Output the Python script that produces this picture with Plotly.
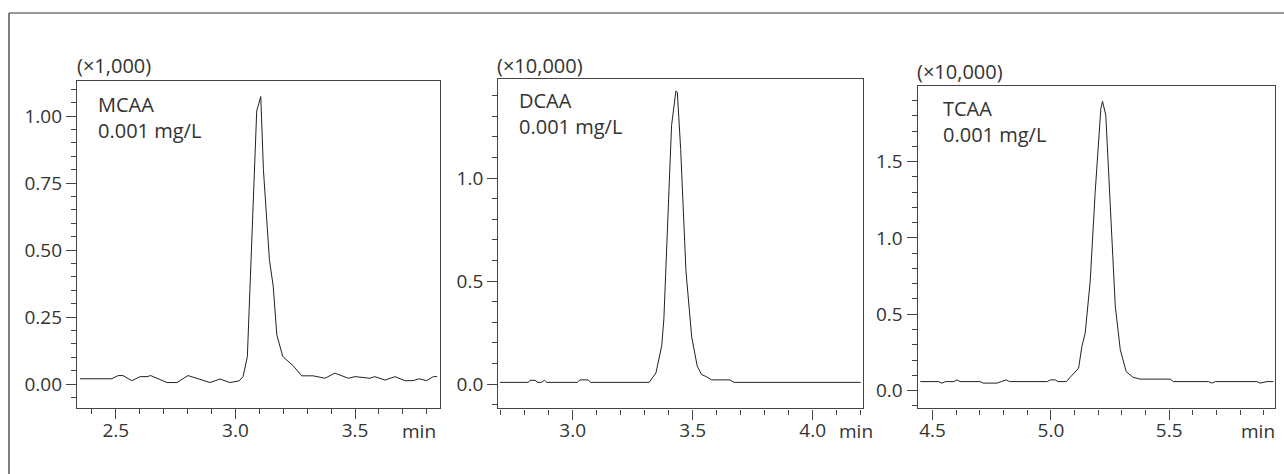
import plotly.graph_objects as go

# ---------------- data ----------------
mcaa_t = [2.351, 2.483, 2.510, 2.530, 2.567, 2.602, 2.631, 2.646, 2.714, 2.756, 2.802, 2.894, 2.936,
          2.977, 3.015, 3.032, 3.050, 3.089, 3.106, 3.117, 3.142, 3.158, 3.173, 3.198, 3.242, 3.277,
          3.325, 3.374, 3.416, 3.472, 3.500, 3.562, 3.583, 3.625, 3.667, 3.708, 3.742, 3.768, 3.799,
          3.827, 3.843]
mcaa_y = [0.020, 0.020, 0.032, 0.032, 0.013, 0.028, 0.028, 0.032, 0.006, 0.006, 0.032, 0.006, 0.019,
          0.006, 0.012, 0.028, 0.103, 1.019, 1.073, 0.800, 0.465, 0.365, 0.184, 0.103, 0.068, 0.031,
          0.031, 0.022, 0.041, 0.022, 0.028, 0.022, 0.028, 0.015, 0.028, 0.013, 0.013, 0.020, 0.013,
          0.028, 0.028]

dcaa_t = [2.697, 2.815, 2.822, 2.843, 2.855, 2.870, 2.882, 2.892, 3.020, 3.030, 3.064, 3.075, 3.319,
          3.347, 3.371, 3.380, 3.412, 3.430, 3.436, 3.450, 3.472, 3.496, 3.519, 3.537, 3.558, 3.579,
          3.655, 3.672, 4.200]
dcaa_y = [0.008, 0.008, 0.018, 0.018, 0.008, 0.008, 0.018, 0.008, 0.008, 0.020, 0.020, 0.008, 0.008,
          0.054, 0.186, 0.317, 1.255, 1.423, 1.417, 1.140, 0.548, 0.227, 0.087, 0.046, 0.035, 0.020,
          0.020, 0.008, 0.008]

tcaa_t = [4.448, 4.525, 4.539, 4.555, 4.590, 4.603, 4.616, 4.700, 4.714, 4.772, 4.790, 4.811, 4.825,
          4.985, 4.997, 5.018, 5.030, 5.065, 5.082, 5.117, 5.131, 5.145, 5.166, 5.187, 5.211, 5.218,
          5.232, 5.253, 5.272, 5.293, 5.318, 5.346, 5.377, 5.504, 5.518, 5.665, 5.680, 5.695, 5.870,
          5.884, 5.913, 5.940]
tcaa_y = [0.059, 0.059, 0.049, 0.059, 0.059, 0.070, 0.059, 0.059, 0.049, 0.049, 0.059, 0.070, 0.059,
          0.059, 0.070, 0.070, 0.059, 0.059, 0.088, 0.147, 0.290, 0.377, 0.717, 1.299, 1.847, 1.895,
          1.803, 1.167, 0.553, 0.268, 0.125, 0.088, 0.075, 0.075, 0.059, 0.059, 0.049, 0.059, 0.059,
          0.049, 0.059, 0.059]

names = ["MCAA", "DCAA", "TCAA"]
conc = "0.001 mg/L"
scales = ["(×1,000)", "(×10,000)", "(×10,000)"]
x_ranges = [[2.338, 3.855], [2.69, 4.211], [4.437, 5.947]]
y_ranges = [[-0.089, 1.131], [-0.118, 1.48], [-0.116, 1.995]]
x_tickvals = [[2.5, 3.0, 3.5], [3.0, 3.5, 4.0], [4.5, 5.0, 5.5]]
y_dtick = [0.25, 0.5, 0.5]
y_minor = [0.05, 0.1, 0.1]
y_fmt = [".2f", ".1f", ".1f"]

# ---------------- layout helpers (pixel positions) ----------------
W, H = 1284, 474
boxes = [(77, 440, 81, 408), (498.3, 863.3, 79.3, 408.3), (917.7, 1275, 86, 408.3)]  # left,right,top,bottom
scale_pos = [(75, 65.7), (495, 65), (915, 71.7)]
name_pos = [(96, 117.3), (517, 114), (940.7, 122)]
min_right = [438, 875, 1277]


def px(x):
    return x / W


def py(y):
    return 1 - y / H


FONT = "Open Sans"
TXT = "#333333"
AX = "#444444"
FS = 19
FA = 20

fig = go.Figure()
series = [(mcaa_t, mcaa_y), (dcaa_t, dcaa_y), (tcaa_t, tcaa_y)]
layout = {}
annotations = []
for i, (t, y) in enumerate(series):
    n = "" if i == 0 else str(i + 1)
    fig.add_trace(go.Scatter(x=t, y=y, mode="lines", line=dict(color="#222222", width=1),
                             xaxis="x" + n, yaxis="y" + n, showlegend=False, hoverinfo="skip"))
    l, r, tp, b = boxes[i]
    layout["xaxis" + n] = dict(
        domain=[px(l), px(r)], range=x_ranges[i], anchor="y" + n,
        tickvals=x_tickvals[i], tickformat=".1f", ticks="outside", ticklen=10, tickcolor=AX,
        showline=True, mirror=True, linecolor=AX, linewidth=1.4, showgrid=False, zeroline=False,
        minor=dict(dtick=0.1, tick0=0, ticks="outside", ticklen=5, tickcolor=AX, showgrid=False),
        tickfont=dict(family=FONT, size=FS, color=TXT), ticklabelstandoff=-5,
    )
    layout["yaxis" + n] = dict(
        domain=[py(b), py(tp)], range=y_ranges[i], anchor="x" + n,
        dtick=y_dtick[i], tick0=0, tickformat=y_fmt[i], ticks="outside", ticklen=10, tickcolor=AX,
        showline=True, mirror=True, linecolor=AX, linewidth=1.4, showgrid=False, zeroline=False,
        minor=dict(dtick=y_minor[i], tick0=0, ticks="outside", ticklen=5, tickcolor=AX, showgrid=False),
        tickfont=dict(family=FONT, size=FS, color=TXT),
    )
    sx, sy = scale_pos[i]
    annotations.append(dict(x=px(sx), y=py(sy), xref="paper", yref="paper", text=scales[i],
                            showarrow=False, xanchor="left", yanchor="middle",
                            font=dict(family=FONT, size=FA, color=TXT)))
    nx, ny = name_pos[i]
    annotations.append(dict(x=px(nx), y=py(ny), xref="paper", yref="paper",
                            text=names[i] + "<br>" + conc, align="left",
                            showarrow=False, xanchor="left", yanchor="middle",
                            font=dict(family=FONT, size=FA, color=TXT)))
    annotations.append(dict(x=px(min_right[i]), y=py(430.5), xref="paper", yref="paper", text="min",
                            showarrow=False, xanchor="right", yanchor="middle",
                            font=dict(family=FONT, size=FS, color=TXT)))

shapes = [
    dict(type="line", xref="paper", yref="paper", x0=px(9), x1=1, y0=py(13), y1=py(13),
         line=dict(color="#777777", width=1.5)),
    dict(type="line", xref="paper", yref="paper", x0=px(9), x1=px(9), y0=0, y1=py(13),
         line=dict(color="#555555", width=1.5)),
]

fig.update_layout(
    width=W, height=H, margin=dict(l=0, r=0, t=0, b=0),
    paper_bgcolor="white", plot_bgcolor="white",
    annotations=annotations, shapes=shapes, **layout,
)
fig.write_html(
    "out.html",
    config={"displayModeBar": False},
    post_script="document.body.style.margin='0';document.body.style.padding='0';"
                "document.body.style.overflow='hidden';",
)
